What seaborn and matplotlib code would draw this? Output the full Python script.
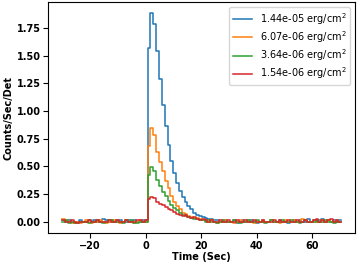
import numpy as np
import pandas as pd
import matplotlib
matplotlib.use("Agg")
import matplotlib.pyplot as plt
import seaborn as sns

# Light curves, 1.024 s bins starting at -30 s
t_start = -30.0
bin_width = 1.024

fluences = ["1.44e-05", "6.07e-06", "3.64e-06", "1.54e-06"]

rate_1 = [
    0.01, 0.00, 0.01, 0.00, -0.01, 0.00, 0.01, 0.00, 0.00, 0.01,
    0.00, 0.01, 0.00, 0.00, 0.02, 0.01, 0.00, 0.01, 0.00, 0.01,
    0.01, 0.00, 0.00, 0.01, 0.00, 0.01, 0.00, 0.00, 0.01, 0.01,
    1.57, 1.89, 1.79, 1.54, 1.29, 1.05, 0.86, 0.69, 0.55, 0.44,
    0.35, 0.28, 0.22, 0.18, 0.14, 0.11, 0.08, 0.06, 0.05, 0.04,
    0.03, 0.02, 0.02, 0.01, 0.01, 0.00, 0.00, 0.01, 0.00, 0.00,
    0.01, -0.01, 0.00, 0.01, 0.00, 0.00, 0.01, 0.00, -0.01, 0.00,
    0.01, 0.00, 0.00, 0.01, 0.00, 0.00, 0.01, 0.00, 0.00, -0.01,
    0.00, 0.01, 0.00, 0.01, 0.00, 0.00, 0.02, 0.00, 0.01, 0.00,
    0.01, 0.02, 0.00, 0.01, 0.00, 0.01, 0.00, 0.01,
]
rate_2 = [
    0.02, 0.01, 0.00, -0.01, -0.01, 0.00, -0.01, 0.00, 0.01, 0.00,
    -0.01, 0.00, 0.00, 0.01, 0.00, -0.01, 0.00, 0.00, 0.01, 0.00,
    -0.01, 0.00, 0.01, 0.00, 0.00, -0.01, 0.00, 0.01, 0.00, 0.00,
    0.68, 0.85, 0.78, 0.63, 0.54, 0.46, 0.37, 0.30, 0.23, 0.18,
    0.14, 0.11, 0.08, 0.07, 0.05, 0.04, 0.03, 0.03, 0.02, 0.01,
    0.01, 0.00, 0.01, 0.00, -0.01, 0.00, 0.00, 0.01, 0.00, 0.00,
    -0.01, 0.00, 0.01, 0.00, 0.00, 0.01, 0.00, -0.01, 0.00, 0.00,
    0.01, 0.00, 0.00, 0.01, 0.00, 0.00, -0.01, 0.00, 0.01, 0.00,
    0.00, 0.01, 0.00, 0.00, 0.02, 0.01, 0.00, 0.00, 0.01, 0.00,
    0.00, 0.01, 0.00, 0.01, 0.00, 0.00, 0.01, 0.00,
]
rate_3 = [
    0.00, 0.01, -0.01, 0.00, -0.01, -0.01, 0.00, 0.00, 0.00, -0.01,
    0.00, 0.00, 0.01, 0.00, -0.01, 0.00, 0.01, 0.01, 0.00, 0.00,
    0.00, -0.01, 0.01, 0.00, 0.01, -0.01, -0.01, 0.00, 0.00, 0.00,
    0.42, 0.49, 0.46, 0.38, 0.32, 0.27, 0.23, 0.19, 0.15, 0.12,
    0.10, 0.08, 0.06, 0.05, 0.04, 0.03, 0.02, 0.02, 0.01, 0.01,
    0.00, 0.01, 0.00, 0.00, -0.01, 0.00, 0.01, 0.00, 0.00, 0.00,
    0.01, 0.00, -0.01, 0.00, 0.00, 0.01, 0.00, 0.00, 0.01, 0.00,
    0.00, -0.01, 0.00, 0.01, 0.00, 0.00, 0.00, 0.01, 0.00, 0.00,
    0.01, 0.00, 0.00, -0.01, 0.00, 0.01, 0.00, 0.00, 0.00, 0.01,
    0.00, 0.00, 0.01, 0.00, 0.00, -0.01, 0.00, 0.00,
]
rate_4 = [
    0.01, 0.00, 0.00, 0.01, 0.00, -0.01, 0.00, 0.00, 0.00, 0.01,
    0.00, 0.00, 0.01, 0.00, 0.00, 0.00, 0.01, 0.00, 0.00, 0.01,
    0.00, 0.00, 0.01, 0.00, 0.00, 0.00, 0.01, 0.01, 0.00, 0.01,
    0.20, 0.22, 0.21, 0.18, 0.16, 0.15, 0.13, 0.11, 0.10, 0.09,
    0.07, 0.06, 0.05, 0.06, 0.04, 0.03, 0.04, 0.02, 0.01, 0.02,
    0.01, 0.00, 0.01, 0.00, 0.00, 0.01, 0.00, 0.00, 0.01, 0.00,
    0.00, 0.01, 0.00, 0.00, 0.01, 0.00, 0.00, 0.01, 0.00, 0.00,
    0.01, 0.00, 0.00, 0.00, 0.01, 0.00, 0.01, 0.00, 0.00, 0.01,
    0.00, 0.00, 0.01, 0.00, 0.00, 0.01, 0.00, 0.00, 0.01, 0.02,
    0.00, 0.01, 0.00, 0.01, 0.02, 0.00, 0.01, 0.00,
]

rates = [rate_1, rate_2, rate_3, rate_4]
n_bins = len(rate_1)
for r in rates:
    assert len(r) == n_bins

# bin edges, last value repeated so steps-post closes the final bin
edges = t_start + bin_width * np.arange(n_bins + 1)

frames = []
for flu, r in zip(fluences, rates):
    label = f"{flu} erg/cm$^2$"
    frames.append(pd.DataFrame({"Time": edges, "Rate": r + [r[-1]], "Fluence": label}))
df = pd.concat(frames, ignore_index=True)

fig = plt.figure(figsize=(3.57, 2.64), dpi=100)
ax = fig.add_axes([0.135, 0.117, 0.860, 0.875])

sns.lineplot(
    data=df, x="Time", y="Rate", hue="Fluence",
    palette=["#1f77b4", "#ff7f0e", "#2ca02c", "#d62728"],
    estimator=None, sort=False, drawstyle="steps-post",
    linewidth=1.1, ax=ax,
)

ax.legend(loc="upper right", fontsize=7, title=None, labelspacing=0.25)
ax.set_xlabel("Time (Sec)", fontsize=7, fontweight="bold", labelpad=1)
ax.set_ylabel("Counts/Sec/Det", fontsize=7, fontweight="bold", labelpad=2)
ax.tick_params(labelsize=7, pad=2)
for lbl in ax.get_xticklabels() + ax.get_yticklabels():
    lbl.set_fontweight("bold")

fig.savefig("out.png", dpi=100)
